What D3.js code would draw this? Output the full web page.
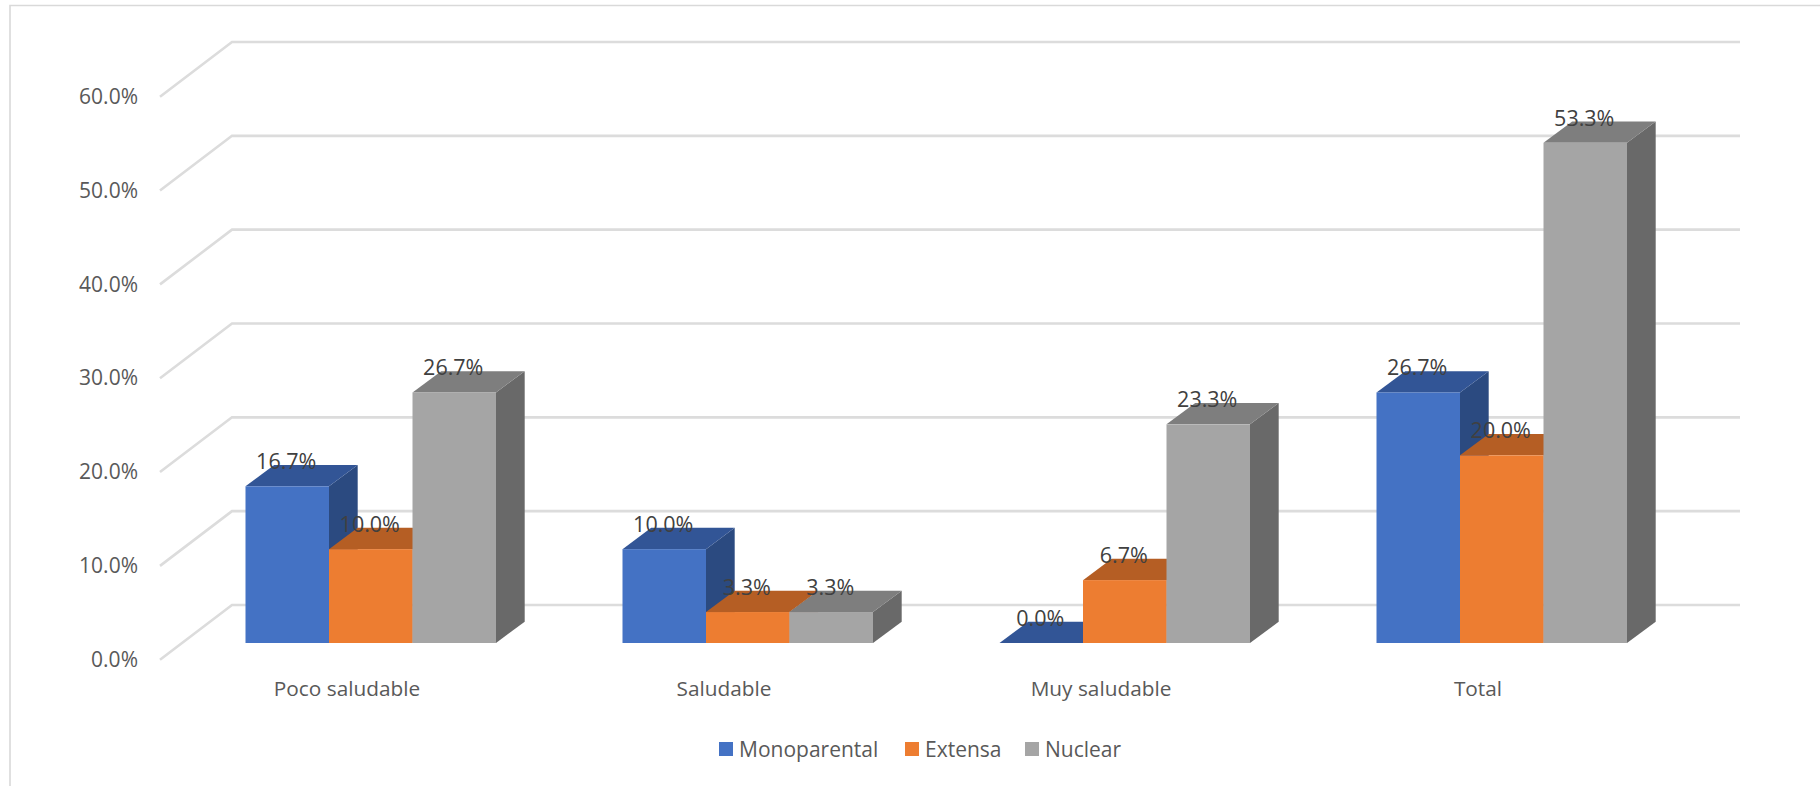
<!DOCTYPE html>
<html>
<head>
<meta charset="utf-8">
<script src="https://cdn.jsdelivr.net/npm/d3@7/dist/d3.min.js"></script>
<style>
html,body{margin:0;padding:0;background:#fff;overflow:hidden}
svg{display:block}
text{font-family:"Open Sans",sans-serif}
</style>
</head>
<body>
<svg id="chart" width="1820" height="786"></svg>
<script>
const categories = ["Poco saludable", "Saludable", "Muy saludable", "Total"];
const seriesNames = ["Monoparental", "Extensa", "Nuclear"];
const monoparental = [16.7, 10.0, 0.0, 26.7];
const extensa = [10.0, 3.3, 6.7, 20.0];
const nuclear = [26.7, 3.3, 23.3, 53.3];
const yTicks = [0, 10, 20, 30, 40, 50, 60];
const frontColors = ["#4472C4", "#ED7D31", "#A5A5A5"];
const topColors = ["#325596", "#B55E24", "#7E7E7E"];
const sideColors = ["#2B4A80", "#9C5020", "#696969"];

const svg = d3.select("#chart");
const seriesValues = [monoparental, extensa, nuclear];
const fmt = v => d3.format(".1f")(v) + "%";

// Projection: front edge of the floor, back wall, and front plane of the bars
const wallDx = 72, wallDy = 54.7;
const barDx = 28.7, barDy = 21.3;
const yFront = d3.scaleLinear().domain([0, 60]).range([659.7, 96.7]);
const yBar = d3.scaleLinear().domain([0, 60]).range([643, 80]);
const x0 = d3.scaleBand().domain(categories).range([160, 1668]);
const x1 = d3.scaleBand().domain(seriesNames)
  .range([85.5, 85.5 + 250.5]);

// Frame
svg.append("path").attr("d", "M10,786V5.5H1820").attr("fill", "none")
  .attr("stroke", "#d9d9d9").attr("stroke-width", 1.6);

// Gridlines
const grid = svg.append("g").attr("fill", "none").attr("stroke", "#dcdcdc").attr("stroke-width", 2.6);
grid.selectAll("path").data(yTicks).join("path")
  .attr("d", t => {
    const a = yFront(t);
    return d3.line()([[160, a], [160 + wallDx, a - wallDy], [1740, a - wallDy]]);
  });

// Y axis
const yAxis = svg.append("g").attr("transform", "translate(148,0)")
  .call(d3.axisLeft(yFront).tickValues(yTicks).tickSize(0).tickPadding(10).tickFormat(fmt));
yAxis.select(".domain").remove();
yAxis.selectAll("text").attr("font-size", 21).attr("fill", "#595959")
  .attr("font-family", '"Open Sans",sans-serif').attr("dy", "0.32em");

// X axis
const xAxis = svg.append("g").attr("transform", "translate(-1.5,681)")
  .call(d3.axisBottom(x0).tickSize(0).tickPadding(0));
xAxis.select(".domain").remove();
xAxis.selectAll("text").attr("font-size", 20.8).attr("fill", "#595959")
  .attr("font-family", '"Open Sans",sans-serif');

// Bars
const base = yBar(0);
const rows = categories.map((c, i) => seriesNames.map((s, j) => ({c, s, j, v: seriesValues[j][i]})));
const groups = svg.selectAll("g.cat").data(rows).join("g").attr("class", "cat")
  .attr("transform", (d, i) => `translate(${x0(categories[i])},0)`);
const bars = groups.selectAll("g.bar").data(d => d).join("g").attr("class", "bar");
const w = x1.bandwidth();
bars.append("path").attr("fill", d => sideColors[d.j])
  .attr("d", d => {
    const x = x1(d.s) + w, t = yBar(d.v);
    return d3.line()([[x, t], [x + barDx, t - barDy], [x + barDx, base - barDy], [x, base]]) + "Z";
  });
bars.append("path").attr("fill", d => topColors[d.j])
  .attr("d", d => {
    const x = x1(d.s), t = yBar(d.v);
    return d3.line()([[x, t], [x + barDx, t - barDy], [x + w + barDx, t - barDy], [x + w, t]]) + "Z";
  });
bars.append("rect").attr("fill", d => frontColors[d.j])
  .attr("x", d => x1(d.s)).attr("width", w)
  .attr("y", d => yBar(d.v)).attr("height", d => base - yBar(d.v));

// Data labels above all bars
const labels = svg.append("g");
rows.forEach((row, i) => {
  labels.selectAll(null).data(row).join("text")
    .attr("x", d => x0(categories[i]) + x1(d.s) + w / 2 - 1)
    .attr("y", d => yBar(d.v) - 25)
    .attr("dy", "0.36em")
    .attr("text-anchor", "middle")
    .attr("font-size", 21.5).attr("fill", "#404040")
    .text(d => fmt(d.v));
});

// Legend
const legendX = [719, 905, 1025];
const legend = svg.append("g").selectAll("g").data(seriesNames).join("g")
  .attr("transform", (d, i) => `translate(${legendX[i]},742)`);
legend.append("rect").attr("width", 14).attr("height", 14).attr("fill", (d, i) => frontColors[i]);
legend.append("text").attr("x", 20).attr("y", 7).attr("dy", "0.36em")
  .attr("font-size", 21).attr("fill", "#595959").text(d => d);
</script>
</body>
</html>
